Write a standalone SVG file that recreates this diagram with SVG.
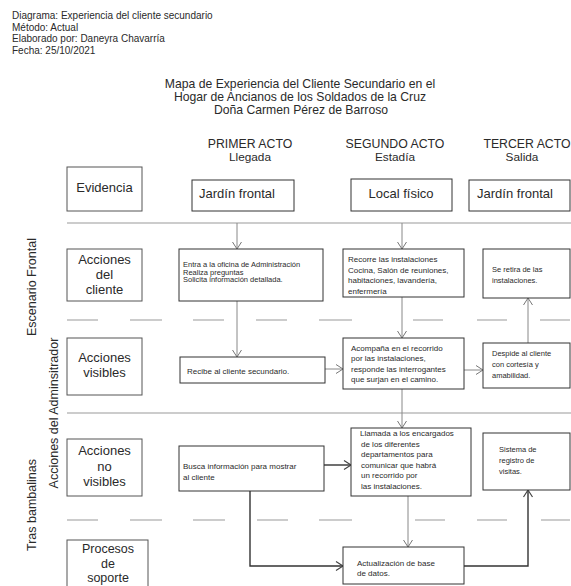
<svg xmlns="http://www.w3.org/2000/svg" width="571" height="586" viewBox="0 0 571 586">
<style>
text{font-family:"Liberation Sans",Arial,sans-serif;fill:#2a2a2a}
.hd{font-size:10px}
.ti{font-size:12.2px;text-anchor:middle}
.act{font-size:12.3px;text-anchor:middle}
.sub{font-size:11.8px;text-anchor:middle}
.lbl{font-size:13px;text-anchor:middle}
.ps{font-size:12.5px;text-anchor:middle}
.ev{font-size:13px;text-anchor:middle}
.side{font-size:12.5px;text-anchor:middle}
.sm{font-size:7.5px}
.md{font-size:8px}
.box{fill:#fff;stroke:#333;stroke-width:1}
.lbox{fill:#fff;stroke:#555;stroke-width:1}
.rule{stroke:#999;stroke-width:1;fill:none}
.c{stroke:#888;stroke-width:1;fill:none}
.cd{stroke:#333;stroke-width:1.4;fill:none}
</style>
<defs>
<marker id="ar" markerUnits="userSpaceOnUse" markerWidth="12" markerHeight="12" refX="8" refY="5" orient="auto">
<path d="M1,0.5 L8,5 L1,9.5" fill="none" stroke="#777" stroke-width="1"/>
</marker>
<marker id="ard" markerUnits="userSpaceOnUse" markerWidth="12" markerHeight="12" refX="8" refY="5" orient="auto">
<path d="M1,0.5 L8,5 L1,9.5" fill="none" stroke="#444" stroke-width="1.2"/>
</marker>
</defs>

<g id="header">
<text class="hd" x="12" y="19">Diagrama: Experiencia del cliente secundario</text>
<text class="hd" x="12" y="30.5">Método: Actual</text>
<text class="hd" x="12" y="42">Elaborado por: Daneyra Chavarría</text>
<text class="hd" x="12" y="53.5">Fecha: 25/10/2021</text>
</g>

<g id="title">
<text class="ti" x="300" y="87.5">Mapa de Experiencia del Cliente Secundario en el</text>
<text class="ti" x="300" y="100.5">Hogar de Ancianos de los Soldados de la Cruz</text>
<text class="ti" x="301" y="113.5">Doña Carmen Pérez de Barroso</text>
</g>

<g id="acts">
<text class="act" x="250" y="147.5">PRIMER ACTO</text>
<text class="sub" x="250" y="160.5">Llegada</text>
<text class="act" x="395" y="147.5">SEGUNDO ACTO</text>
<text class="sub" x="395" y="160.5">Estadía</text>
<text class="act" x="527" y="147.5">TERCER ACTO</text>
<text class="sub" x="522" y="160.5">Salida</text>
</g>

<g id="side-labels">
<text class="side" transform="translate(36,287) rotate(-90)">Escenario Frontal</text>
<text class="side" transform="translate(58,413) rotate(-90)">Acciones del Adminsitrador</text>
<text class="side" transform="translate(36,505) rotate(-90)">Tras bambalinas</text>
</g>

<g id="rules">
<line class="rule" x1="67" y1="223" x2="571" y2="223"/>
<line class="rule" x1="67" y1="413" x2="571" y2="413"/>
<path class="rule" d="M67,320H98M130,320H162M193,320H224M256,320H287M319,320H352M413,320H443M477,320H507M540,320H570"/>
<path class="rule" d="M67,520H98M130,520H162M193,520H225M257,520H288M319,520H352M415,520H445M477,520H507M541,520H570"/>
</g>

<g id="connectors">
<line class="c" x1="237" y1="223" x2="237" y2="249" marker-end="url(#ar)"/>
<line class="c" x1="402" y1="223" x2="402" y2="249" marker-end="url(#ar)"/>
<line class="c" x1="237" y1="301" x2="237" y2="357" marker-end="url(#ar)"/>
<line class="c" x1="402" y1="297" x2="402" y2="338" marker-end="url(#ar)"/>
<line class="c" x1="325" y1="369" x2="343" y2="369" marker-end="url(#ar)"/>
<line class="c" x1="464" y1="370" x2="483" y2="370" marker-end="url(#ar)"/>
<line class="c" x1="528" y1="343" x2="528" y2="298" marker-end="url(#ar)"/>
<line class="c" x1="402" y1="389" x2="402" y2="428" marker-end="url(#ar)"/>
<line class="cd" x1="324" y1="465" x2="351" y2="465" marker-end="url(#ard)"/>
<line class="c" x1="408" y1="496" x2="408" y2="547" marker-end="url(#ar)"/>
<polyline class="cd" points="250,491 250,566 343,566" marker-end="url(#ard)"/>
<polyline class="cd" points="464,566 528,566 528,490" marker-end="url(#ard)"/>
</g>

<g id="evidencia">
<rect class="lbox" x="67" y="167" width="75" height="44"/>
<text class="ev" x="104.5" y="192">Evidencia</text>
</g>
<g id="ev-jardin1">
<rect class="box" x="192" y="180" width="102" height="31"/>
<text class="ev" x="237" y="198">Jardín frontal</text>
</g>
<g id="ev-local">
<rect class="box" x="351" y="179" width="101" height="32"/>
<text class="ev" x="401" y="198">Local físico</text>
</g>
<g id="ev-jardin3">
<rect class="box" x="469" y="180" width="101" height="31"/>
<text class="ev" x="515" y="198">Jardín frontal</text>
</g>

<g id="acciones-cliente">
<rect class="lbox" x="67" y="249" width="75" height="52"/>
<text class="lbl" x="104.5" y="264">Acciones</text>
<text class="lbl" x="104.5" y="279">del</text>
<text class="lbl" x="104.5" y="294">cliente</text>
</g>
<g id="cliente1">
<rect class="box" x="179" y="249" width="144" height="52"/>
<text class="sm" x="183" y="267">Entra a la oficina de Administración</text>
<text class="sm" x="183" y="274.5">Realiza preguntas</text>
<text class="sm" x="183" y="282">Solicita información detallada.</text>
</g>
<g id="cliente2">
<rect class="box" x="343" y="249" width="121" height="48"/>
<text class="md" x="348" y="262">Recorre las instalaciones</text>
<text class="md" x="348" y="272.5">Cocina, Salón de reuniones,</text>
<text class="md" x="348" y="283">habitaciones, lavandería,</text>
<text class="md" x="348" y="293.5">enfermería</text>
</g>
<g id="cliente3">
<rect class="box" x="483" y="249" width="87" height="49"/>
<text class="sm" x="492" y="272">Se retira de las</text>
<text class="sm" x="492" y="283">instalaciones.</text>
</g>

<g id="acciones-visibles">
<rect class="lbox" x="67" y="338" width="75" height="57"/>
<text class="lbl" x="104.5" y="362">Acciones</text>
<text class="lbl" x="104.5" y="377">visibles</text>
</g>
<g id="visible1">
<rect class="box" x="180" y="357" width="145" height="26"/>
<text class="md" x="187" y="374">Recibe al cliente secundario.</text>
</g>
<g id="visible2">
<rect class="box" x="343" y="338" width="121" height="51"/>
<text class="md" x="351" y="351">Acompaña en el recorrido</text>
<text class="md" x="351" y="361">por las instalaciones,</text>
<text class="md" x="351" y="371.5">responde las interrogantes</text>
<text class="md" x="351" y="382">que surjan en el camino.</text>
</g>
<g id="visible3">
<rect class="box" x="483" y="343" width="87" height="45"/>
<text class="sm" x="492" y="356">Despide al cliente</text>
<text class="sm" x="492" y="367">con cortesía y</text>
<text class="sm" x="492" y="378">amabilidad.</text>
</g>

<g id="acciones-no-visibles">
<rect class="lbox" x="67" y="439" width="75" height="57"/>
<text class="lbl" x="104.5" y="455">Acciones</text>
<text class="lbl" x="104.5" y="471">no</text>
<text class="lbl" x="104.5" y="486">visibles</text>
</g>
<g id="novisible1">
<rect class="box" x="179" y="446" width="145" height="45"/>
<text class="md" x="183" y="469">Busca información para mostrar</text>
<text class="md" x="183" y="480">al cliente</text>
</g>
<g id="novisible2">
<rect class="box" x="351" y="428" width="120" height="68"/>
<text class="md" x="360" y="436">Llamada a los encargados</text>
<text class="md" x="361" y="446.5">de los diferentes</text>
<text class="md" x="361" y="457">departamentos para</text>
<text class="md" x="361" y="467.5">comunicar que habrá</text>
<text class="md" x="361" y="478">un recorrido por</text>
<text class="md" x="361" y="488.5">las instalaciones.</text>
</g>
<g id="novisible3">
<rect class="box" x="483" y="433" width="87" height="57"/>
<text class="sm" x="499" y="452">Sistema de</text>
<text class="sm" x="499" y="463">registro de</text>
<text class="sm" x="499" y="474">visitas.</text>
</g>

<g id="procesos-soporte">
<rect class="lbox" x="67" y="540" width="81" height="50"/>
<text class="ps" x="108" y="553">Procesos</text>
<text class="ps" x="108" y="567.5">de</text>
<text class="ps" x="108" y="582">soporte</text>
</g>
<g id="soporte1">
<rect class="box" x="343" y="547" width="121" height="37"/>
<text class="md" x="357" y="566">Actualización de base</text>
<text class="md" x="357" y="576">de datos.</text>
</g>
</svg>
